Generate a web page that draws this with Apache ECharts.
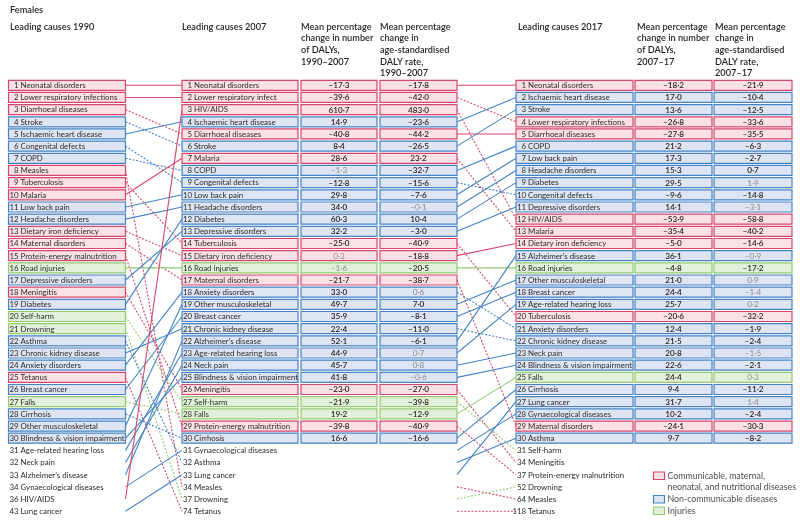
<!DOCTYPE html>
<html>
<head>
<meta charset="utf-8">
<script src="https://cdn.jsdelivr.net/npm/echarts@6/dist/echarts.min.js"></script>
<style>
html, body { margin: 0; padding: 0; background: #fff; }
#chart { width: 800px; height: 525px; }
</style>
</head>
<body>
<div id="chart"></div>
<script>
// cause groups (everything else is non-communicable)
const groupCMNN = ['Neonatal disorders', 'Lower respiratory infections', 'Diarrhoeal diseases', 'Measles',
  'Tuberculosis', 'Malaria', 'Dietary iron deficiency', 'Maternal disorders', 'Protein-energy malnutrition',
  'Meningitis', 'Tetanus', 'HIV/AIDS']
const groupInjuries = ['Road injuries', 'Self-harm', 'Drowning', 'Falls']

// 1990
const causes1990 = ['Neonatal disorders', 'Lower respiratory infections', 'Diarrhoeal diseases', 'Stroke',
  'Ischaemic heart disease', 'Congenital defects', 'COPD', 'Measles', 'Tuberculosis', 'Malaria',
  'Low back pain', 'Headache disorders', 'Dietary iron deficiency', 'Maternal disorders',
  'Protein-energy malnutrition', 'Road injuries', 'Depressive disorders', 'Meningitis', 'Diabetes',
  'Self-harm', 'Drowning', 'Asthma', 'Chronic kidney disease', 'Anxiety disorders', 'Tetanus',
  'Breast cancer', 'Falls', 'Cirrhosis', 'Other musculoskeletal', 'Blindness & vision impairment',
  'Age-related hearing loss', 'Neck pain', 'Alzheimer\u2019s disease', 'Gynaecological diseases', 'HIV/AIDS', 'Lung cancer']
const ranks1990 = [1, 2, 3, 4, 5, 6, 7, 8, 9, 10, 11, 12, 13, 14, 15, 16, 17, 18, 19, 20,
  21, 22, 23, 24, 25, 26, 27, 28, 29, 30, 31, 32, 33, 34, 36, 43]

// 2007
const causes2007 = ['Neonatal disorders', 'Lower respiratory infections', 'HIV/AIDS', 'Ischaemic heart disease',
  'Diarrhoeal diseases', 'Stroke', 'Malaria', 'COPD', 'Congenital defects', 'Low back pain',
  'Headache disorders', 'Diabetes', 'Depressive disorders', 'Tuberculosis', 'Dietary iron deficiency',
  'Road injuries', 'Maternal disorders', 'Anxiety disorders', 'Other musculoskeletal', 'Breast cancer',
  'Chronic kidney disease', 'Alzheimer\u2019s disease', 'Age-related hearing loss', 'Neck pain',
  'Blindness & vision impairment', 'Meningitis', 'Self-harm', 'Falls', 'Protein-energy malnutrition', 'Cirrhosis',
  'Gynaecological diseases', 'Asthma', 'Lung cancer', 'Measles', 'Drowning', 'Tetanus']
const ranks2007 = [1, 2, 3, 4, 5, 6, 7, 8, 9, 10, 11, 12, 13, 14, 15, 16, 17, 18, 19, 20,
  21, 22, 23, 24, 25, 26, 27, 28, 29, 30, 31, 32, 33, 34, 37, 74]
const dalyChange2007 = [-17.3, -39.6, 610.7, 14.9, -40.8, 8.4, 28.6, -1.3, -12.8, 29.8,
  34.0, 60.3, 32.2, -25.0, 0.3, -1.6, -21.7, 33.0, 49.7, 35.9,
  22.4, 52.1, 44.9, 45.7, 41.8, -23.0, -21.9, 19.2, -39.8, 16.6]
const rateChange2007 = [-17.8, -42.0, 483.0, -23.6, -44.2, -26.5, 23.2, -32.7, -15.6, -7.6,
  -0.1, 10.4, -3.0, -40.9, -18.8, -20.5, -38.7, 0.6, 7.0, -8.1,
  -11.0, -6.1, 0.7, 0.8, -0.6, -27.0, -39.8, -12.9, -40.9, -16.6]
const label2007 = { 'Lower respiratory infections': 'Lower respiratory infect' }
const nsDaly2007 = ['COPD', 'Dietary iron deficiency', 'Road injuries']
const nsRate2007 = ['Headache disorders', 'Anxiety disorders', 'Age-related hearing loss', 'Neck pain',
  'Blindness & vision impairment']

// 2017
const causes2017 = ['Neonatal disorders', 'Ischaemic heart disease', 'Stroke', 'Lower respiratory infections',
  'Diarrhoeal diseases', 'COPD', 'Low back pain', 'Headache disorders', 'Diabetes', 'Congenital defects',
  'Depressive disorders', 'HIV/AIDS', 'Malaria', 'Dietary iron deficiency', 'Alzheimer\u2019s disease',
  'Road injuries', 'Other musculoskeletal', 'Breast cancer', 'Age-related hearing loss', 'Tuberculosis',
  'Anxiety disorders', 'Chronic kidney disease', 'Neck pain', 'Blindness & vision impairment', 'Falls',
  'Cirrhosis', 'Lung cancer', 'Gynaecological diseases', 'Maternal disorders', 'Asthma',
  'Self-harm', 'Meningitis', 'Protein-energy malnutrition', 'Drowning', 'Measles', 'Tetanus']
const ranks2017 = [1, 2, 3, 4, 5, 6, 7, 8, 9, 10, 11, 12, 13, 14, 15, 16, 17, 18, 19, 20,
  21, 22, 23, 24, 25, 26, 27, 28, 29, 30, 31, 34, 37, 52, 64, 118]
const dalyChange2017 = [-18.2, 17.0, 13.6, -26.8, -27.8, 21.2, 17.3, 15.3, 29.5, -9.6,
  14.1, -53.9, -35.4, -5.0, 36.1, -4.8, 21.0, 24.4, 25.7, -20.6,
  12.4, 21.5, 20.8, 22.6, 24.4, 9.4, 31.7, 10.2, -24.1, 9.7]
const rateChange2017 = [-21.9, -10.4, -12.5, -33.6, -35.5, -6.3, -2.7, 0.7, 1.9, -14.8,
  -3.1, -58.8, -40.2, -14.6, -0.9, -17.2, 0.9, -1.4, 0.2, -32.2,
  -1.9, -2.4, -1.5, -2.1, 0.3, -11.2, 1.4, -2.4, -30.3, -8.2]
const nsDaly2017 = []
const nsRate2017 = ['Diabetes', 'Depressive disorders', 'Alzheimer\u2019s disease', 'Other musculoskeletal',
  'Breast cancer', 'Age-related hearing loss', 'Neck pain', 'Falls', 'Lung cancer']

const legendItems = ['Communicable, maternal,\nneonatal, and nutritional diseases', 'Non-communicable diseases', 'Injuries']

// ---- styling / layout ----
const FONT = 'Lato'
const palette = {
  cmnn: { line: '#d5476d', fill: '#fbe1e6' },
  ncd: { line: '#4483c5', fill: '#dee4f2' },
  inj: { line: '#92cb72', fill: '#e3f0d9' }
}
const groupOf = name => groupCMNN.includes(name) ? 'cmnn' : (groupInjuries.includes(name) ? 'inj' : 'ncd')
const COL = {
  n1990: [8.5, 125.5], n2007: [182, 298], d2007: [301, 377], r2007: [380, 457],
  n2017: [516, 633], d2017: [635, 712], r2017: [714, 792]
}
const SEG = [[125.5, 182], [457, 516]]
const BOXED = 30
const fmt = v => (v < 0 ? '\u2013' : '') + Math.abs(v).toFixed(1).replace('.', '\u00b7')

// build cells
const cells = []
function addNames(col, causes, ranks, labels) {
  causes.forEach((name, i) => {
    cells.push({ col, row: i + 1, group: groupOf(name), boxed: i < BOXED, kind: 'name',
      rank: String(ranks[i]), text: (labels && labels[name]) || name })
  })
}
function addNums(col, causes, values, ns) {
  values.forEach((v, i) => {
    cells.push({ col, row: i + 1, group: groupOf(causes[i]), boxed: true, kind: 'num',
      text: fmt(v), ns: ns.includes(causes[i]) })
  })
}
addNames('n1990', causes1990, ranks1990)
addNames('n2007', causes2007, ranks2007, label2007)
addNums('d2007', causes2007, dalyChange2007, nsDaly2007)
addNums('r2007', causes2007, rateChange2007, nsRate2007)
addNames('n2017', causes2017, ranks2017)
addNums('d2017', causes2017, dalyChange2017, nsDaly2017)
addNums('r2017', causes2017, rateChange2017, nsRate2017)

// build links between consecutive periods
const links = []
function addLinks(seg, fromCauses, fromRanks, toCauses, toRanks) {
  fromCauses.forEach((name, i) => {
    const j = toCauses.indexOf(name)
    if (j < 0) return
    links.push({ seg, r1: i + 1, r2: j + 1, group: groupOf(name), dashed: toRanks[j] > fromRanks[i] })
  })
}
addLinks(0, causes1990, ranks1990, causes2007, ranks2007)
addLinks(1, causes2007, ranks2007, causes2017, ranks2017)

const chart = echarts.init(document.getElementById('chart'))

const headerText = (x, text) => ({
  type: 'text', left: x, top: 21,
  style: { text, font: '600 9.2px ' + FONT, fill: '#231f20', lineHeight: 11.6 }
})

const legendGraphics = []
legendItems.forEach((t, k) => {
  const y = [472, 495.5, 507][k]
  const g = ['cmnn', 'ncd', 'inj'][k]
  legendGraphics.push({ type: 'rect', shape: { x: 653.5, y, width: 11, height: 7.5 },
    style: { fill: palette[g].fill, stroke: palette[g].line, lineWidth: 1.2 } })
  legendGraphics.push({ type: 'text', x: 667.5, y: y - 2,
    style: { text: t, font: '8.8px ' + FONT, fill: '#4d4d4f', lineHeight: 11.7 } })
})

const TXT = '7.9px ' + FONT

chart.setOption({
  animation: false,
  grid: { left: 0, top: 79.2, width: 800, height: 438.1 },
  xAxis: { type: 'value', min: 0, max: 800, show: false },
  yAxis: { type: 'value', min: 0.5, max: 36.5, inverse: true, show: false },
  graphic: [
    { type: 'text', left: 10, top: 6, style: { text: 'Females', font: '600 9.2px ' + FONT, fill: '#231f20' } },
    headerText(10, 'Leading causes 1990'),
    headerText(182, 'Leading causes 2007'),
    headerText(301, 'Mean percentage\nchange in number\nof DALYs,\n1990\u20132007'),
    headerText(380, 'Mean percentage\nchange in\nage-standardised\nDALY rate,\n1990\u20132007'),
    headerText(518, 'Leading causes 2017'),
    headerText(637, 'Mean percentage\nchange in number\nof DALYs,\n2007\u201317'),
    headerText(715, 'Mean percentage\nchange in\nage-standardised\nDALY rate,\n2007\u201317'),
    ...legendGraphics
  ],
  series: [
    {
      type: 'custom',
      name: 'links',
      data: links.map(l => [SEG[l.seg][0], l.r1]),
      renderItem: (params, api) => {
        const l = links[params.dataIndex]
        const p1 = api.coord([SEG[l.seg][0], l.r1])
        const p2 = api.coord([SEG[l.seg][1], l.r2])
        return {
          type: 'line',
          shape: { x1: p1[0], y1: p1[1], x2: p2[0], y2: p2[1] },
          style: { stroke: palette[l.group].line, lineWidth: 1.1, lineDash: l.dashed ? [2, 1.6] : null }
        }
      }
    },
    {
      type: 'custom',
      name: 'cells',
      data: cells.map(c => [COL[c.col][0], c.row]),
      renderItem: (params, api) => {
        const c = cells[params.dataIndex]
        const a = api.coord([COL[c.col][0], c.row])
        const b = api.coord([COL[c.col][1], c.row])
        const children = []
        if (c.boxed) {
          children.push({
            type: 'rect',
            shape: { x: a[0], y: a[1] - 5, width: b[0] - a[0], height: 10 },
            style: { fill: palette[c.group].fill, stroke: palette[c.group].line, lineWidth: 1.2 }
          })
        }
        if (c.kind === 'name') {
          children.push({ type: 'text', style: { x: a[0] + 10.2, y: a[1] + 0.3, text: c.rank, align: 'right',
            verticalAlign: 'middle', font: TXT, fill: '#2b2b2b' } })
          children.push({ type: 'text', style: { x: a[0] + 12, y: a[1] + 0.3, text: c.text, align: 'left',
            verticalAlign: 'middle', font: TXT, fill: '#2b2b2b' } })
        } else {
          children.push({ type: 'text', style: { x: (a[0] + b[0]) / 2, y: a[1] + 0.3, text: c.text,
            align: 'center', verticalAlign: 'middle',
            font: (c.ns ? '' : '600 ') + '8.2px ' + FONT, fill: c.ns ? '#8a8a8a' : '#231f20' } })
        }
        return { type: 'group', children }
      }
    }
  ]
})
</script>
</body>
</html>
